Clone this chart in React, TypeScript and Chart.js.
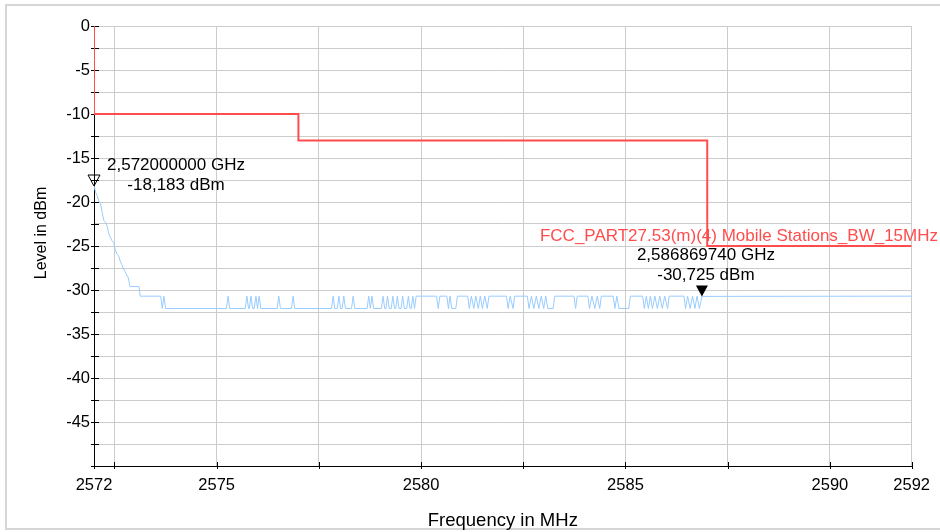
import React, { useEffect, useRef } from "react";
import { Chart, registerables } from "chart.js";

Chart.register(...registerables);

// ---------- data ----------
const xTickValues = [2572, 2572.5, 2575, 2577.5, 2580, 2582.5, 2585, 2587.5, 2590, 2592];
const xTickLabels = [2572, 2575, 2580, 2585, 2590, 2592];
const yTickLabels = [0, -5, -10, -15, -20, -25, -30, -35, -40, -45];

const limitName = "FCC_PART27.53(m)(4) Mobile Stations_BW_15MHz";
const limitFreq = [2572, 2572, 2577, 2577, 2587, 2587, 2592];
const limitLevel = [0, -10, -10, -13, -13, -25, -25];

const markerFreq = [2572.0, 2586.86974];
const markerLevel = [-18.183, -30.725];
const markerFreqText = ["2,572000000 GHz", "2,586869740 GHz"];
const markerLevelText = ["-18,183 dBm", "-30,725 dBm"];

// spectrum trace [MHz, dBm]
const traceDecay: [number, number][] = [
  [2572.0, -18.18], [2572.04, -18.9], [2572.08, -19.3], [2572.12, -19.9], [2572.16, -20.2],
  [2572.2, -21.2], [2572.24, -22.1], [2572.28, -22.3], [2572.32, -22.7], [2572.36, -23.6],
  [2572.4, -24.0], [2572.44, -24.4], [2572.48, -24.6], [2572.52, -25.4], [2572.56, -25.9],
  [2572.6, -26.1], [2572.64, -26.7], [2572.68, -27.1], [2572.72, -27.6], [2572.76, -27.9],
  [2572.8, -28.3], [2572.84, -28.6], [2572.88, -29.6], [2573.1, -29.6], [2573.13, -30.7],
  [2573.63, -30.7], [2573.67, -32.1], [2573.71, -30.7], [2573.75, -32.1],
];

const traceLowFloor: [number, number][] = [
  [2575.24, -32.1], [2575.28, -30.7], [2575.32, -32.1],
  [2575.7, -32.1], [2575.74, -30.7], [2575.78, -32.1],
  [2575.8, -32.1], [2575.84, -30.7], [2575.88, -32.1],
  [2575.92, -32.1], [2575.96, -30.7], [2576.0, -32.1], [2576.04, -30.7], [2576.08, -32.1],
  [2576.48, -32.1], [2576.52, -30.7], [2576.56, -32.1],
  [2576.83, -32.1], [2576.87, -30.7], [2576.91, -32.1],
  [2577.81, -32.1], [2577.85, -30.7], [2577.89, -32.1],
  [2577.95, -32.1], [2577.99, -30.7], [2578.03, -32.1],
  [2578.07, -32.1], [2578.11, -30.7], [2578.15, -32.1],
  [2578.3, -32.1], [2578.34, -30.7], [2578.38, -32.1],
  [2578.68, -32.1], [2578.72, -30.7], [2578.76, -32.1], [2578.8, -30.7], [2578.84, -32.1],
  [2579.03, -32.1], [2579.07, -30.7], [2579.11, -32.1],
  [2579.14, -32.1], [2579.18, -30.7], [2579.22, -32.1],
  [2579.27, -32.1], [2579.31, -30.7], [2579.35, -32.1],
  [2579.38, -32.1], [2579.42, -30.7], [2579.46, -32.1],
  [2579.51, -32.1], [2579.55, -30.7], [2579.59, -32.1],
  [2579.65, -32.1], [2579.69, -30.7], [2579.73, -32.1],
  [2579.76, -32.1], [2579.8, -30.7], [2579.84, -32.1],
  [2579.88, -30.7],
];

const traceHighFloor: [number, number][] = [
  [2580.38, -30.7], [2580.42, -32.1], [2580.46, -30.7],
  [2580.63, -30.7], [2580.67, -32.1], [2580.71, -30.7], [2580.75, -32.1], [2580.85, -32.1], [2580.89, -30.7],
  [2581.14, -30.7], [2581.18, -32.1], [2581.23, -30.7], [2581.29, -32.1], [2581.34, -30.7],
  [2581.4, -32.1], [2581.45, -30.7], [2581.5, -32.1], [2581.56, -30.7], [2581.62, -32.1], [2581.66, -30.7],
  [2582.09, -30.7], [2582.13, -32.1], [2582.18, -30.7], [2582.25, -32.1], [2582.29, -30.7],
  [2582.6, -30.7], [2582.64, -32.1], [2582.7, -30.7], [2582.76, -32.1], [2582.82, -30.7],
  [2582.88, -32.1], [2582.94, -30.7], [2583.0, -32.1], [2583.05, -30.7], [2583.1, -32.1],
  [2583.23, -32.1], [2583.27, -30.7],
  [2583.74, -30.7], [2583.78, -32.1], [2583.82, -30.7],
  [2584.08, -30.7], [2584.12, -32.1], [2584.18, -30.7], [2584.25, -32.1], [2584.31, -30.7],
  [2584.37, -32.1], [2584.41, -30.7],
  [2584.7, -30.7], [2584.74, -32.1], [2584.79, -30.7], [2584.84, -32.1], [2585.08, -32.1], [2585.12, -30.7],
  [2585.42, -30.7], [2585.46, -32.1], [2585.51, -30.7], [2585.56, -32.1], [2585.61, -30.7],
  [2585.66, -32.1], [2585.72, -30.7], [2585.78, -32.1], [2585.84, -30.7], [2585.9, -32.1],
  [2585.96, -30.7], [2586.03, -32.1], [2586.07, -30.7],
  [2586.43, -30.7], [2586.47, -32.1], [2586.52, -30.7], [2586.58, -32.1], [2586.64, -30.7],
  [2586.7, -32.1], [2586.75, -30.7], [2586.81, -32.1],
  [2586.87, -30.725], [2592.0, -30.7],
];

const xTitle = "Frequency in MHz";
const yTitle = "Level in dBm";

// ---------- styles ----------
const FONT = "'Liberation Sans', Arial, sans-serif";
const TRACE_COLOR = "rgb(153, 204, 255)";
const LIMIT_COLOR = "rgb(255, 77, 77)";
const GRID_COLOR = "#cccccc";

const near = (list: number[], v: number) => list.some((l) => Math.abs(l - v) < 1e-6);

const overlayPlugin = {
  id: "overlay",
  beforeDatasetsDraw(chart: any) {
    const { ctx, chartArea: a, scales } = chart;
    const x = scales.x;
    const y = scales.y;
    ctx.save();
    ctx.strokeStyle = "#000";
    ctx.lineWidth = 1;
    ctx.beginPath();
    for (const t of y.ticks) {
      const py = Math.round(y.getPixelForValue(t.value)) + 0.5;
      ctx.moveTo(a.left - 3, py);
      ctx.lineTo(a.left + 5, py);
    }
    for (const t of x.ticks) {
      const px = Math.round(x.getPixelForValue(t.value)) + 0.5;
      ctx.moveTo(px, a.bottom - 4);
      ctx.lineTo(px, a.bottom + 3);
    }
    ctx.stroke();
    ctx.restore();
  },
  afterDatasetsDraw(chart: any) {
    const { ctx, scales } = chart;
    const x = scales.x;
    const y = scales.y;
    ctx.save();

    // limit line name
    ctx.fillStyle = LIMIT_COLOR;
    ctx.font = `17px ${FONT}`;
    ctx.textAlign = "right";
    ctx.textBaseline = "alphabetic";
    const lastLimit = limitLevel[limitLevel.length - 1];
    ctx.fillText(limitName, 938, y.getPixelForValue(lastLimit) - 5);

    // marker 1 (hollow triangle)
    const m1x = x.getPixelForValue(markerFreq[0]);
    const m1y = y.getPixelForValue(markerLevel[0]);
    ctx.strokeStyle = "#000";
    ctx.lineWidth = 1;
    ctx.beginPath();
    ctx.moveTo(m1x, m1y);
    ctx.lineTo(m1x - 6, m1y - 11);
    ctx.lineTo(m1x + 6, m1y - 11);
    ctx.closePath();
    ctx.stroke();

    // marker 2 (filled triangle)
    const m2x = x.getPixelForValue(markerFreq[1]);
    const m2y = y.getPixelForValue(markerLevel[1]);
    ctx.fillStyle = "#000";
    ctx.beginPath();
    ctx.moveTo(m2x, m2y);
    ctx.lineTo(m2x - 6, m2y - 11);
    ctx.lineTo(m2x + 6, m2y - 11);
    ctx.closePath();
    ctx.fill();

    // marker labels
    ctx.fillStyle = "#000";
    ctx.font = `17px ${FONT}`;
    ctx.textAlign = "center";
    ctx.fillText(markerFreqText[0], m1x + 82, m1y - 16);
    ctx.fillText(markerLevelText[0], m1x + 82, m1y + 4);
    ctx.fillText(markerFreqText[1], m2x + 4, m2y - 36);
    ctx.fillText(markerLevelText[1], m2x + 4, m2y - 16);
    ctx.restore();
  },
  afterDraw(chart: any) {
    const { ctx, chartArea: a } = chart;
    ctx.save();
    // frame
    ctx.strokeStyle = "#d6d6d6";
    ctx.lineWidth = 2;
    ctx.strokeRect(6, 5, 1000, 524);
    // axis titles
    ctx.fillStyle = "#000";
    ctx.font = `18.5px ${FONT}`;
    ctx.textAlign = "center";
    ctx.textBaseline = "alphabetic";
    ctx.fillText(xTitle, (a.left + a.right) / 2, 526);
    ctx.translate(46, 233);
    ctx.rotate(-Math.PI / 2);
    ctx.font = `16px ${FONT}`;
    ctx.fillText(yTitle, 0, 0);
    ctx.restore();
  },
};

export default function App() {
  const ref = useRef<HTMLCanvasElement | null>(null);

  useEffect(() => {
    document.body.style.margin = "0";
    const trace = [...traceDecay, ...traceLowFloor, ...traceHighFloor].map(([f, l]) => ({ x: f, y: l }));
    const limit = limitFreq.map((f, i) => ({ x: f, y: limitLevel[i] }));

    const chart = new Chart(ref.current as HTMLCanvasElement, {
      type: "line",
      data: {
        datasets: [
          {
            data: trace,
            borderColor: TRACE_COLOR,
            borderWidth: 1,
            pointRadius: 0,
            tension: 0,
            fill: false,
          },
          {
            data: limit,
            borderColor: LIMIT_COLOR,
            borderWidth: 2,
            pointRadius: 0,
            tension: 0,
            fill: false,
          },
        ],
      },
      options: {
        responsive: false,
        animation: false,
        devicePixelRatio: 1,
        layout: { padding: { left: 0, right: 25, top: 26, bottom: 0 } },
        plugins: {
          legend: { display: false },
          tooltip: { enabled: false },
          title: { display: false },
        },
        scales: {
          x: {
            type: "linear",
            min: 2572,
            max: 2592,
            afterBuildTicks: (s: any) => {
              s.ticks = xTickValues.map((v) => ({ value: v }));
            },
            afterFit: (s: any) => {
              s.height = 66;
            },
            ticks: {
              autoSkip: false,
              maxRotation: 0,
              padding: 10,
              color: "#000",
              font: { family: FONT, size: 16.5 },
              callback: (v: any) => (near(xTickLabels, Number(v)) ? String(v) : ""),
            },
            grid: { color: GRID_COLOR, lineWidth: 1, drawTicks: false },
            border: { display: true, color: "#000", width: 1 },
          },
          y: {
            type: "linear",
            min: -50,
            max: 0,
            afterFit: (s: any) => {
              s.width = 94;
            },
            ticks: {
              stepSize: 2.5,
              autoSkip: false,
              padding: 4,
              color: "#000",
              font: { family: FONT, size: 16.5 },
              callback: (v: any) => (near(yTickLabels, Number(v)) ? String(v) : ""),
            },
            grid: { color: GRID_COLOR, lineWidth: 1, drawTicks: false },
            border: { display: true, color: "#000", width: 1 },
          },
        },
      },
      plugins: [overlayPlugin],
    } as any);

    return () => chart.destroy();
  }, []);

  return <canvas ref={ref} width={940} height={532} style={{ display: "block" }} />;
}
